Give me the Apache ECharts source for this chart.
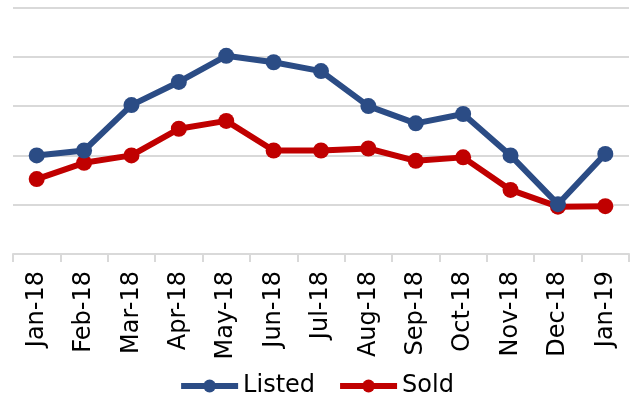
<!DOCTYPE html>
<html>
<head>
<meta charset="utf-8">
<script src="https://cdn.jsdelivr.net/npm/echarts@6/dist/echarts.min.js"></script>
<style>
html,body{margin:0;padding:0;background:#fff;}
#chart{width:632px;height:400px;}
</style>
</head>
<body>
<div id="chart"></div>
<script>
var categories = ['Jan-18','Feb-18','Mar-18','Apr-18','May-18','Jun-18','Jul-18','Aug-18','Sep-18','Oct-18','Nov-18','Dec-18','Jan-19'];
var listed = [2.0, 2.1, 3.02, 3.49, 4.02, 3.89, 3.71, 3.0, 2.65, 2.84, 2.0, 1.01, 2.03];
var sold = [1.52, 1.85, 2.0, 2.54, 2.70, 2.10, 2.10, 2.14, 1.89, 1.96, 1.30, 0.96, 0.97];
var seriesNames = ['Listed', 'Sold'];

var chart = echarts.init(document.getElementById('chart'), null, {renderer: 'canvas'});
var font = 'DejaVu Sans';
chart.setOption({
  animation: false,
  grid: {left: 13, right: 3, top: 7.5, bottom: 146, containLabel: false},
  legend: {
    data: seriesNames,
    bottom: -3,
    left: 'center',
    itemWidth: 57,
    itemHeight: 16,
    itemGap: 22,
    lineStyle: {width: 6},
    textStyle: {fontFamily: font, fontSize: 24, fontWeight: 500, color: '#000'}
  },
  xAxis: {
    type: 'category',
    data: categories,
    boundaryGap: true,
    axisLine: {show: true, lineStyle: {color: '#d9d9d9', width: 2}},
    axisTick: {show: true, length: 8, lineStyle: {color: '#d9d9d9', width: 2}},
    axisLabel: {rotate: 90, margin: 17, fontFamily: font, fontSize: 24, fontWeight: 500, color: '#000', interval: 0}
  },
  yAxis: {
    type: 'value',
    min: 0, max: 5, interval: 1,
    axisLabel: {show: false},
    axisLine: {show: false},
    axisTick: {show: false},
    splitLine: {show: true, lineStyle: {color: '#d9d9d9', width: 2}}
  },
  series: [
    {name: seriesNames[0], type: 'line', data: listed, symbol: 'circle', symbolSize: 16,
     lineStyle: {color: '#2B4C85', width: 6}, itemStyle: {color: '#2B4C85'}, z: 3},
    {name: seriesNames[1], type: 'line', data: sold, symbol: 'circle', symbolSize: 16,
     lineStyle: {color: '#C00000', width: 6}, itemStyle: {color: '#C00000'}, z: 2}
  ]
});
</script>
</body>
</html>
